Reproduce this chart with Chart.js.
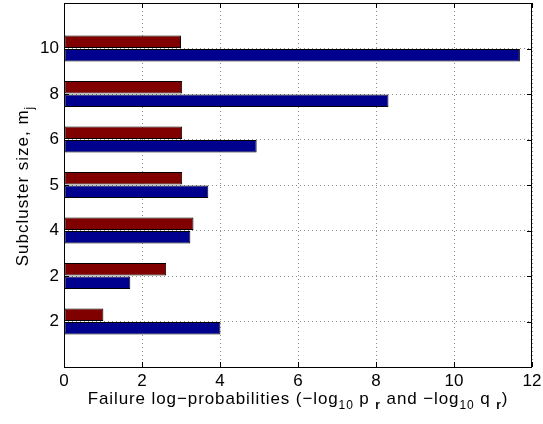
<!DOCTYPE html>
<html>
<head>
<meta charset="utf-8">
<script src="https://cdn.jsdelivr.net/npm/chart.js@4"></script>
<style>
html, body { margin: 0; padding: 0; background: #fff; }
#wrap { width: 543px; height: 424px; }
</style>
</head>
<body>
<div id="wrap"><canvas id="chart"></canvas></div>
<script>
// Subcluster sizes, top to bottom
const sizes = ['10', '8', '6', '5', '4', '2', '2'];
// -log10 p_r (dark red) and -log10 q_r (dark blue)
const logP = [3.00, 3.03, 3.03, 3.03, 3.32, 2.62, 1.01];
const logQ = [11.69, 8.32, 4.94, 3.70, 3.24, 1.70, 4.01];
const xTicks = [0, 2, 4, 6, 8, 10, 12];

const FONT = '"Liberation Sans", Arial, sans-serif';
const FS = 17;

// empty slots above and below give the half-category margins
const labels = [''].concat(sizes, ['']);
const pad = arr => [null].concat(arr, [null]);

// draw a line of text with subscripts, centred on (cx, cy)
function drawRich(ctx, parts, cx, cy, spacing) {
    const fontOf = p => (p.bold ? 'bold ' : '') + (p.sub ? 12 : FS) + 'px ' + FONT;
    ctx.letterSpacing = spacing + 'px';
    let total = 0;
    parts.forEach(p => { ctx.font = fontOf(p); total += ctx.measureText(p.t).width; });
    let x = cx - total / 2;
    ctx.textBaseline = 'alphabetic';
    ctx.textAlign = 'left';
    parts.forEach(p => {
        ctx.font = fontOf(p);
        ctx.fillText(p.t, x, cy + (p.sub ? 5 : 0));
        x += ctx.measureText(p.t).width;
    });
    ctx.letterSpacing = '0px';
}

const frame = {
    id: 'frame',
    afterDraw(chart) {
        const { ctx, chartArea: a, scales: { x, y } } = chart;
        ctx.save();
        ctx.strokeStyle = '#000';
        ctx.lineWidth = 1;
        ctx.strokeRect(Math.round(a.left) + 0.5, Math.round(a.top) + 0.5,
            Math.round(a.right - a.left) - 1, Math.round(a.bottom - a.top));
        ctx.beginPath();
        x.ticks.forEach((t, i) => {
            const px = Math.round(x.getPixelForTick(i)) + 0.5;
            ctx.moveTo(px, a.bottom); ctx.lineTo(px, a.bottom - 5);
            ctx.moveTo(px, a.top); ctx.lineTo(px, a.top + 5);
        });
        y.ticks.forEach((t, i) => {
            if (i === 0 || i === y.ticks.length - 1) return;
            const py = Math.round(y.getPixelForTick(i)) + 0.5;
            ctx.moveTo(a.left, py); ctx.lineTo(a.left + 5, py);
            ctx.moveTo(a.right, py); ctx.lineTo(a.right - 5, py);
        });
        ctx.stroke();

        ctx.fillStyle = '#000';
        drawRich(ctx, [
            { t: 'Failure log\u2212probabilities (\u2212log' },
            { t: '10', sub: true },
            { t: ' p ' },
            { t: 'r', sub: true, bold: true },
            { t: ' and \u2212log' },
            { t: '10', sub: true },
            { t: ' q ' },
            { t: 'r', sub: true, bold: true },
            { t: ')' }
        ], (a.left + a.right) / 2, 404, 0.9);

        ctx.translate(28, (a.top + a.bottom) / 2 + 1);
        ctx.rotate(-Math.PI / 2);
        drawRich(ctx, [
            { t: 'Subcluster size, m' },
            { t: 'j', sub: true }
        ], 0, 0, 1);
        ctx.restore();
    }
};

new Chart(document.getElementById('chart'), {
    type: 'bar',
    data: {
        labels: labels,
        datasets: [{
            label: '-log10 p_r',
            data: pad(logP),
            backgroundColor: '#800000',
            borderColor: '#000',
            borderWidth: 1,
            borderSkipped: false,
            categoryPercentage: 0.6,
            barPercentage: 0.92
        }, {
            label: '-log10 q_r',
            data: pad(logQ),
            backgroundColor: '#00008f',
            borderColor: '#000',
            borderWidth: 1,
            borderSkipped: false,
            categoryPercentage: 0.6,
            barPercentage: 0.92
        }]
    },
    options: {
        indexAxis: 'y',
        responsive: true,
        maintainAspectRatio: false,
        animation: false,
        layout: { padding: { top: 3, right: 11, left: 0, bottom: 0 } },
        plugins: { legend: { display: false }, tooltip: { enabled: false } },
        scales: {
            x: {
                min: xTicks[0],
                max: xTicks[xTicks.length - 1],
                ticks: {
                    stepSize: xTicks[1] - xTicks[0],
                    color: '#000',
                    font: { family: FONT, size: FS },
                    padding: 4,
                    maxRotation: 0
                },
                grid: { color: 'rgba(0,0,0,0.45)', drawTicks: false },
                border: { display: false, dash: [1, 3] },
                afterFit(scale) {
                    scale.height = 57;
                    scale.paddingLeft = 0;
                    scale.paddingRight = 0;
                }
            },
            y: {
                offset: false,
                ticks: {
                    color: '#000',
                    font: { family: FONT, size: FS },
                    padding: 5,
                    autoSkip: false
                },
                grid: { color: 'rgba(0,0,0,0.45)', drawTicks: false, offset: false },
                border: { display: false, dash: [1, 3] },
                afterFit(scale) {
                    scale.width = 64;
                    scale.paddingTop = 0;
                    scale.paddingBottom = 0;
                }
            }
        }
    },
    plugins: [frame]
});
</script>
</body>
</html>
